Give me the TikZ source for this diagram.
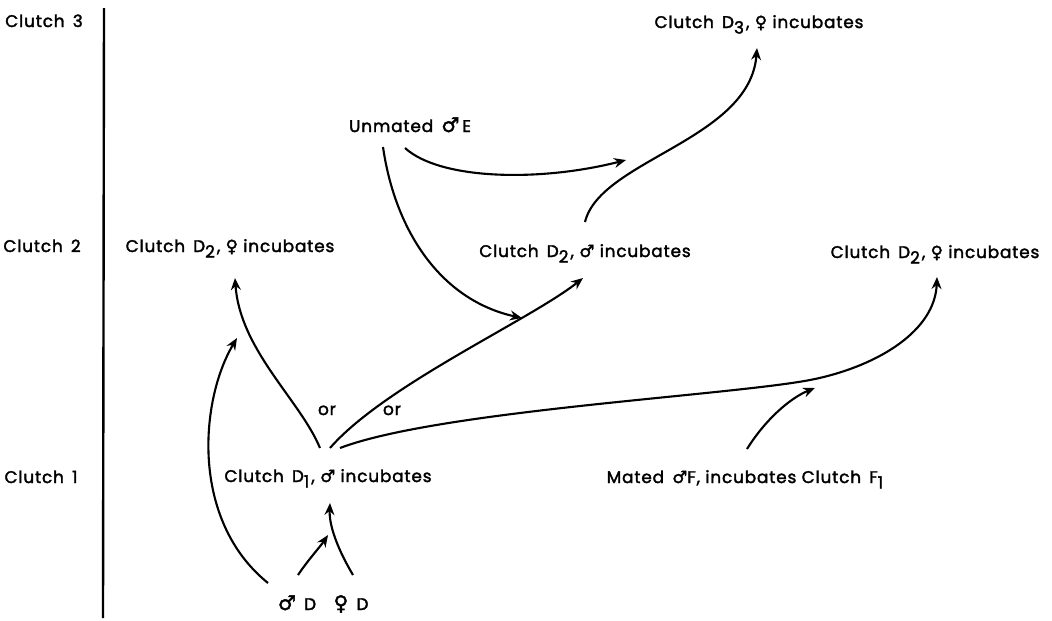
\documentclass[tikz,border=0pt]{standalone}
\usepackage{fontspec}
\setmainfont{Poppins}[LetterSpace=5, FakeBold=2]
\newfontfamily\symfont{DejaVu Sans}[FakeBold=2]
\usetikzlibrary{arrows.meta,calc}
\newcommand\malesign{{\symfont ♂}}
\newcommand\femalesign{{\symfont ♀}}
\newcommand\low[1]{\raisebox{-0.6ex}{#1}\kern1.5pt}
\tikzset{
  lbl/.style={anchor=base, inner sep=0pt, font=\fontsize{12}{14}\selectfont},
  arr/.style={-{Stealth[length=8.5pt,width=7pt]}, line width=1.5pt}
}
\begin{document}
\begin{tikzpicture}[x=0.025cm, y=-0.025cm]
    \useasboundingbox (0,0) rectangle (1052,620);

    % Clutch rows
    \node[lbl] (c3) at (44,27) {Clutch\, 3};
    \node[lbl] (c2) at (42,252) {Clutch\, 2};
    \node[lbl] (c1) at (41,483) {Clutch\, 1};
    \draw[line width=1.7pt] (104,8) -- (103,618);

    % Birds and clutches
    \node[lbl] (d3) at (759,28) {Clutch\, D\low{3}, \femalesign\ incubates};
    \node[lbl] (uE) at (410,132) {Unmated\, {\Large\malesign}\,E};
    \node[lbl] (d2a) at (230,252) {Clutch\, D\low{2}, \femalesign\ incubates};
    \node[lbl] (d2b) at (585,257) {Clutch\, D\low{2}, \malesign\ incubates};
    \node[lbl] (d2c) at (935,258) {Clutch\, D\low{2}, \femalesign\ incubates};
    \node[lbl] (d1) at (328,482) {Clutch\, D\low{1}, \malesign\ incubates};
    \node[lbl] (mF) at (746,483) {Mated\, \malesign F, incubates Clutch\, F\low{1}};
    \node[lbl] (mD) at (297,610) {{\Large\malesign}\, D};
    \node[lbl] (fD) at (351,610) {{\Large\femalesign}\, D};
    \node[lbl] (or1) at (327,415) {or};
    \node[lbl] (or2) at (392,415) {or};

    \coordinate (jE) at (626,160);
    \coordinate (jF) at (815,388);

    % Arrows
    \draw[arr] ($(mD.base)+(-29,-27)$) .. controls (190,520) and (200,400) .. ($(d2a.base)+(7,86)$);
    \draw[arr] ($(mD.base)+(1,-35)$) .. controls (308,560) and (320,547) .. ($(d1.base)+(0,53)$);
    \draw[arr] ($(fD.base)+(2,-35)$) .. controls (337,548) and (329,525) .. ($(d1.base)+(2,21)$);
    \draw[arr] ($(d1.base)+(-8,-34)$) .. controls (300,400) and (240,350) .. ($(d2a.base)+(5,26)$);
    \draw[arr] ($(d1.base)+(2,-34)$) .. controls (385,385) and (530,320) .. ($(d2b.base)+(-2,21)$);
    \draw[arr] ($(d1.base)+(12,-34)$) .. controls (440,410) and (740,395) .. (815,379)
        .. controls (880,365) and (935,330) .. ($(d2c.base)+(2,19)$);
    \draw[arr] ($(mF.base)+(1,-34)$) .. controls (765,420) and (790,398) .. (jF);
    \draw[arr] ($(uE.base)+(-27,15)$) .. controls (395,230) and (440,300) .. ($(d2b.base)+(-63,61)$);
    \draw[arr] ($(uE.base)+(-5,16)$) .. controls (440,180) and (540,182) .. (jE);
    \draw[arr] ($(d2b.base)+(0,-35)$) .. controls (600,160) and (750,140) .. ($(d3.base)+(-2,20)$);
\end{tikzpicture}
\end{document}
